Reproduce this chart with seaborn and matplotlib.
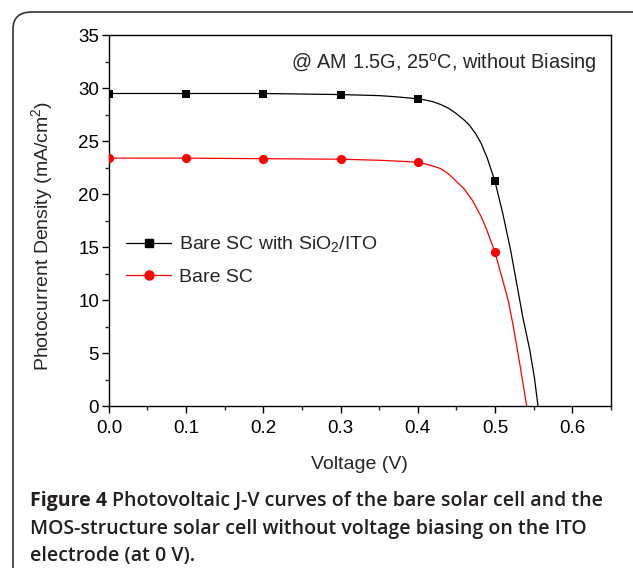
import numpy as np
import pandas as pd
import seaborn as sns
import matplotlib.pyplot as plt
from matplotlib.lines import Line2D
from matplotlib.patches import FancyBboxPatch
from matplotlib.ticker import MultipleLocator

# ----------- Data -----------

# measured points (markers)
v_pts = [0.0, 0.1, 0.2, 0.3, 0.4, 0.5]
j_ito_pts = [29.5, 29.5, 29.5, 29.4, 29.0, 21.2]
j_bare_pts = [23.4, 23.4, 23.35, 23.3, 23.0, 14.5]

# smooth curves
v_ito_curve = [0.0, 0.1, 0.2, 0.3, 0.35, 0.37, 0.39, 0.4, 0.41, 0.42, 0.43, 0.44, 0.45, 0.46,
               0.467, 0.475, 0.482, 0.49, 0.5, 0.51, 0.52, 0.528, 0.536, 0.545, 0.551, 0.5557]
j_ito_curve = [29.5, 29.5, 29.5, 29.4, 29.3, 29.2, 29.07, 29.0, 28.88, 28.72, 28.45, 28.1, 27.6, 27.0,
               26.5, 25.7, 24.8, 23.4, 21.2, 18.2, 14.8, 11.6, 8.4, 5.3, 2.7, 0.0]
v_bare_curve = [0.0, 0.1, 0.2, 0.3, 0.35, 0.38, 0.4, 0.41, 0.42, 0.43, 0.44, 0.448, 0.46, 0.47,
                0.482, 0.49, 0.5, 0.508, 0.517, 0.523, 0.529, 0.535, 0.541]
j_bare_curve = [23.4, 23.4, 23.35, 23.3, 23.2, 23.1, 23.0, 22.85, 22.65, 22.4, 21.9, 21.35, 20.5, 19.5,
                17.9, 16.5, 14.5, 12.4, 10.0, 7.8, 5.3, 2.7, 0.0]

label_ito = "Bare SC with SiO$_2$/ITO"
label_bare = "Bare SC"
annotation = "@ AM 1.5G, 25$^{\\mathrm{o}}$C, without Biasing"

curves = pd.concat([
    pd.DataFrame({"V": v_ito_curve, "J": j_ito_curve, "cell": label_ito}),
    pd.DataFrame({"V": v_bare_curve, "J": j_bare_curve, "cell": label_bare}),
])

# ----------- Plot -----------

sns.set_theme(style="ticks")
plt.rcParams["font.family"] = ["Liberation Sans", "DejaVu Sans"]
plt.rcParams["mathtext.fontset"] = "custom"
plt.rcParams["mathtext.rm"] = "Liberation Sans"
plt.rcParams["mathtext.it"] = "Liberation Sans:italic"

fig = plt.figure(figsize=(6.33, 5.68), dpi=100)
ax = fig.add_axes([0.172, 0.285, 0.793, 0.653])

palette = {label_ito: "black", label_bare: "red"}
sns.lineplot(data=curves, x="V", y="J", hue="cell", palette=palette,
             sort=False, linewidth=0.9, legend=False, ax=ax)
sns.scatterplot(x=v_pts, y=j_ito_pts, marker="s", color="black", s=30,
                edgecolor="black", linewidth=0, ax=ax, zorder=5)
sns.scatterplot(x=v_pts, y=j_bare_pts, marker="o", color="red", s=44,
                edgecolor="red", linewidth=0, ax=ax, zorder=5)

ax.set_xlim(0, 0.65)
ax.set_ylim(0, 35)
ax.xaxis.set_major_locator(MultipleLocator(0.1))
ax.xaxis.set_minor_locator(MultipleLocator(0.05))
ax.yaxis.set_major_locator(MultipleLocator(5))
ax.yaxis.set_minor_locator(MultipleLocator(2.5))
ax.set_xticks(np.arange(0, 0.61, 0.1))
ax.set_xticklabels(["0.0", "0.1", "0.2", "0.3", "0.4", "0.5", "0.6"])
ax.tick_params(which="major", direction="out", length=5, width=1, labelsize=13.5, colors="black")
ax.tick_params(axis="x", which="major", pad=5)
ax.tick_params(axis="y", which="major", pad=2)
ax.tick_params(which="minor", direction="out", length=3, width=1)
for s in ax.spines.values():
    s.set_linewidth(1)
    s.set_color("black")

ax.set_xlabel("Voltage (V)", fontsize=14, labelpad=14)
ax.set_ylabel("Photocurrent Density (mA/cm$^2$)", fontsize=14)
ax.yaxis.set_label_coords(-0.108, 0.458)

ax.text(0.972, 0.925, annotation, transform=ax.transAxes, ha="right", va="center", fontsize=14.3)

handles = [
    Line2D([], [], color="black", lw=0.9, marker="s", markersize=5.5),
    Line2D([], [], color="red", lw=0.9, marker="o", markersize=6.5),
]
ax.legend(handles, [label_ito, label_bare], loc="upper left", bbox_to_anchor=(0.0, 0.51),
          frameon=False, fontsize=14, handlelength=2.3, handletextpad=0.4, labelspacing=0.72)

# rounded figure frame
frame = FancyBboxPatch((13 / 633, -20 / 568), 640 / 633, 576 / 568,
                       boxstyle="round,pad=0,rounding_size=0.03",
                       transform=fig.transFigure, fill=False, edgecolor="#333333",
                       linewidth=1.2, clip_on=False)
fig.patches.append(frame)

# caption
cap_font = ["Open Sans", "DejaVu Sans"]
fig.canvas.draw()
r = fig.canvas.get_renderer()
t0 = fig.text(30 / 633, 1 - 506 / 568, "Figure 4", fontsize=14, fontweight="bold",
              family=cap_font, va="baseline", color="#231f20")
bb = t0.get_window_extent(renderer=r)
fig.text((bb.x1 + 5) / fig.bbox.width, 1 - 506 / 568,
         "Photovoltaic J-V curves of the bare solar cell and the",
         fontsize=14, fontweight="semibold", family=cap_font, va="baseline", color="#231f20")
fig.text(30 / 633, 1 - 534 / 568,
         "MOS-structure solar cell without voltage biasing on the ITO",
         fontsize=14, fontweight="semibold", family=cap_font, va="baseline", color="#231f20")
fig.text(30 / 633, 1 - 561 / 568, "electrode (at 0 V).",
         fontsize=14, fontweight="semibold", family=cap_font, va="baseline", color="#231f20")

fig.savefig("out.png", dpi=100)
